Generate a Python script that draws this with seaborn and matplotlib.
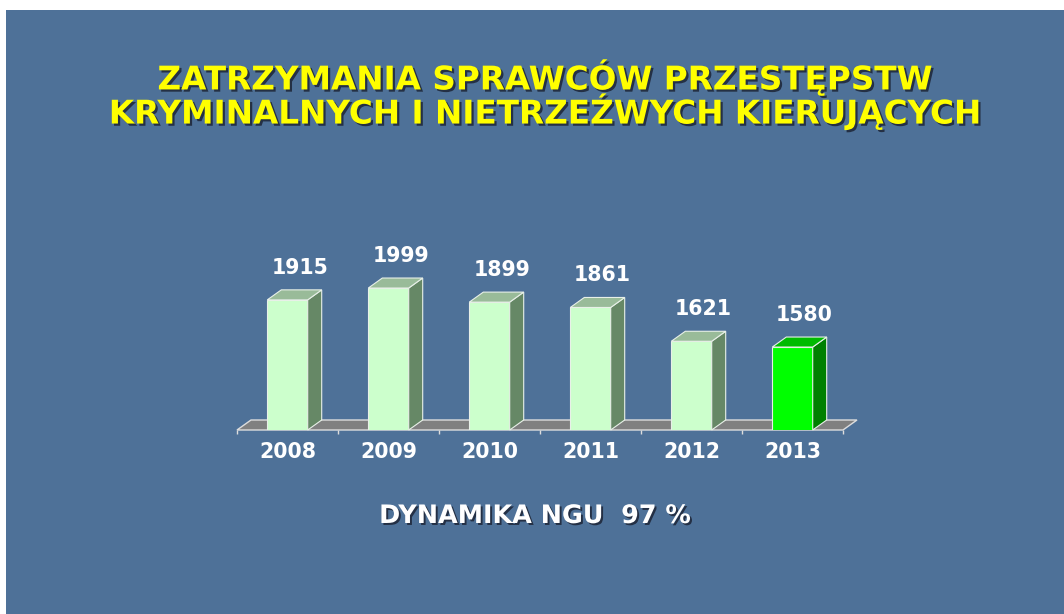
import numpy as np
import pandas as pd
import matplotlib
matplotlib.use('Agg')
import matplotlib.pyplot as plt
import matplotlib.patheffects as pe
from matplotlib.patches import Polygon, Rectangle
import seaborn as sns

# chart data
years = ['2008', '2009', '2010', '2011', '2012', '2013']
values = [1915, 1999, 1899, 1861, 1621, 1580]
title_lines = ['ZATRZYMANIA SPRAWCÓW PRZESTĘPSTW',
               'KRYMINALNYCH I NIETRZEŹWYCH KIERUJĄCYCH']
footer = 'DYNAMIKA NGU  97 %'

# colours: front / top / side
light = ('#ccffcc', '#99bb99', '#668866')
green = ('#00ff00', '#00bb00', '#008000')
styles = [light] * 5 + [green]

sns.set_theme(style='white')
plt.rcParams['font.family'] = ['DejaVu Sans']

W, H = 1064, 614
fig = plt.figure(figsize=(W / 100, H / 100), dpi=100, facecolor='white')

# slide background
fig.patches.append(Rectangle((6 / W, 0), 1 - 6 / W, (H - 10) / H,
                             transform=fig.transFigure, facecolor='#4e7198',
                             edgecolor='none', zorder=-10))

# axes placed in pixels: categories 237..843, baseline at y=430 from top
ax_h = 230
ax = fig.add_axes([237 / W, (H - 430) / H, 606 / W, ax_h / H])
ax.set_facecolor('none')
k = 7.1          # data units per pixel
base = 991
ax.set_ylim(base, base + ax_h * k)
ax.set_xlim(-0.5, 5.5)

df = pd.DataFrame({'year': years, 'value': values})
sns.barplot(data=df, x='year', y='value', hue='year',
            palette=[s[0] for s in styles], saturation=1, width=0.4, legend=False,
            edgecolor='#e8f0e8', linewidth=0.8, ax=ax, zorder=3)
ax.set_xlim(-0.5, 5.5)

# 3D depth offsets
ddx = 14 / 101
ddy = 10 * k

# floor
floor = Polygon([(-0.5, base), (5.5, base), (5.5 + ddx, base + ddy), (-0.5 + ddx, base + ddy)],
                closed=True, facecolor='#808080', edgecolor='#dddddd', lw=1,
                clip_on=False, zorder=1)
ax.add_patch(floor)

for i, (v, st) in enumerate(zip(values, styles)):
    x0, x1 = i - 0.2, i + 0.2
    top = Polygon([(x0, v), (x1, v), (x1 + ddx, v + ddy), (x0 + ddx, v + ddy)],
                  closed=True, facecolor=st[1], edgecolor='#e8f0e8', lw=0.8,
                  clip_on=False, zorder=3)
    side = Polygon([(x1, base), (x1 + ddx, base + ddy), (x1 + ddx, v + ddy), (x1, v)],
                   closed=True, facecolor=st[2], edgecolor='#e8f0e8', lw=0.8,
                   clip_on=False, zorder=3)
    ax.add_patch(side)
    ax.add_patch(top)
    ax.annotate(f'{v}', (i + 0.12, v + ddy), xytext=(0, 12), textcoords='offset pixels',
                ha='center', va='bottom', color='white', fontsize=14.8,
                fontweight='bold', annotation_clip=False)

# axis styling
for s in ax.spines.values():
    s.set_visible(False)
ax.set_yticks([])
ax.set_xticks(range(len(years)))
ax.set_xticklabels(years)
ax.set_xticks(np.arange(-0.5, 6, 1), minor=True)
ax.tick_params(axis='x', which='major', length=0, pad=9, labelsize=14.8,
               labelcolor='white')
ax.tick_params(axis='x', which='minor', length=3, width=1, color='#dddddd',
               direction='out', bottom=True)
for lbl in ax.get_xticklabels():
    lbl.set_fontweight('bold')
ax.set_xlabel('')
ax.set_ylabel('')

# title
shadow = [pe.withSimplePatchShadow(offset=(1.6, -1.6), shadow_rgbFace='#1a2030', alpha=0.8)]
fig.text(545 / W, 1 - 94 / H, '\n'.join(title_lines), ha='center', va='center',
         multialignment='center', linespacing=0.86,
         color='#ffff00', fontsize=23.5, fontweight='bold', path_effects=shadow)

# footer
fig.text(535 / W, 1 - 516 / H, footer, ha='center', va='center',
         color='white', fontsize=18.3, fontweight='bold',
         path_effects=[pe.withSimplePatchShadow(offset=(1.4, -1.4), shadow_rgbFace='#1a2030', alpha=0.8)])

fig.savefig('out.png', dpi=100, facecolor=fig.get_facecolor())
